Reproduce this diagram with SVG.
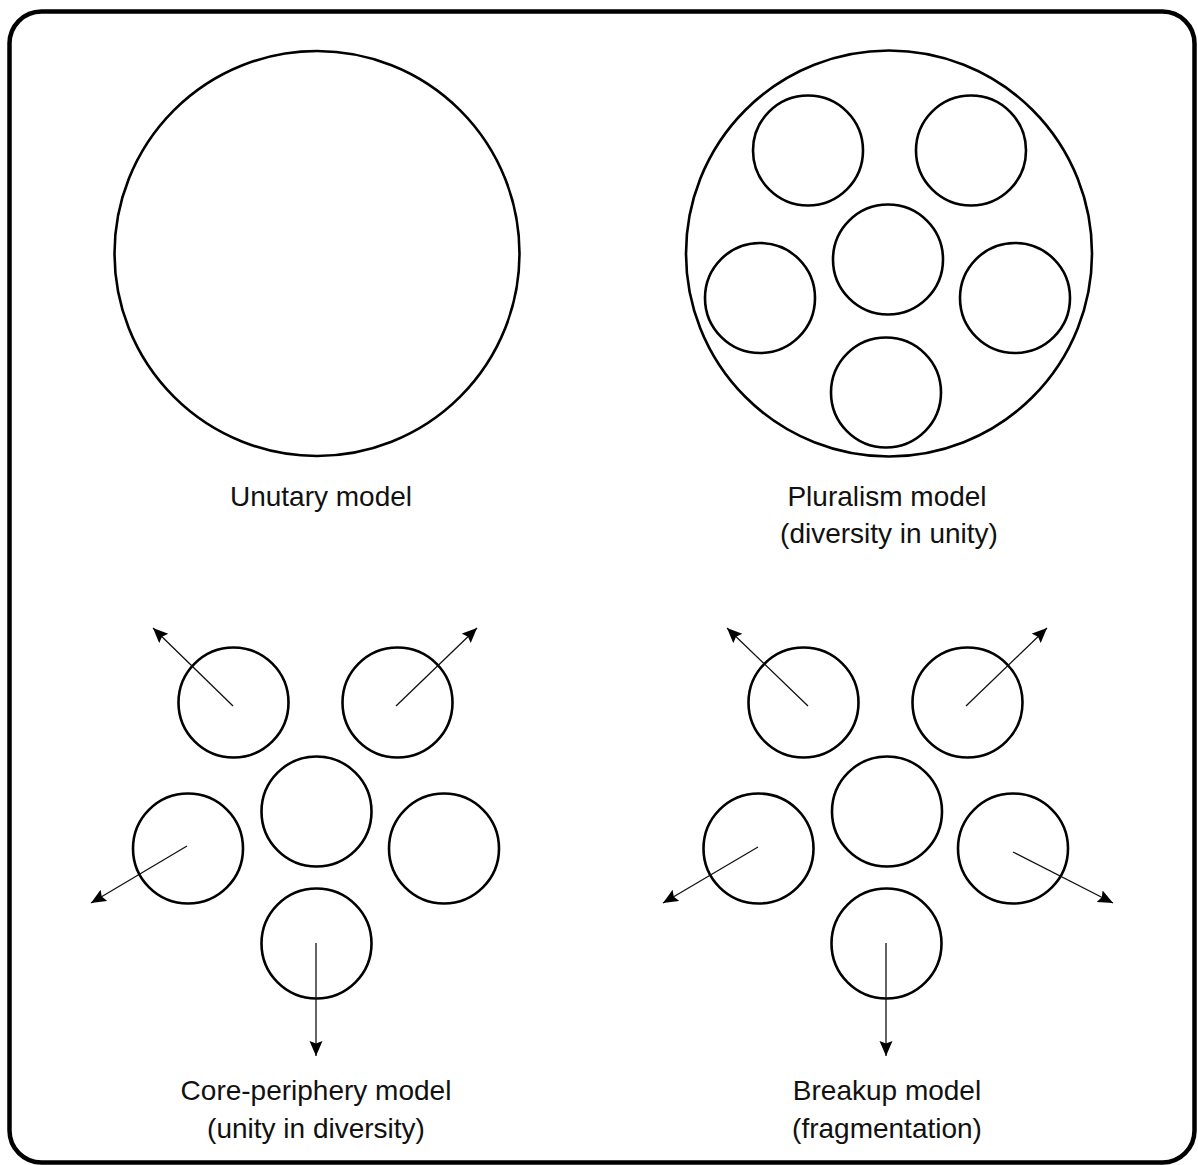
<svg xmlns="http://www.w3.org/2000/svg" width="1198" height="1165" viewBox="0 0 1198 1165">
  <style>
    .frame { fill: #ffffff; stroke: #000; stroke-width: 4.5; }
    .big { fill: none; stroke: #000; stroke-width: 2.6; }
    .small { fill: none; stroke: #000; stroke-width: 2.6; }
    .arrow { fill: none; stroke: #111; stroke-width: 1.3; marker-end: url(#head); }
    .label { font-family: "Liberation Sans", Arial, Helvetica, sans-serif; font-size: 28px; fill: #111; text-anchor: middle; }
  </style>
  <defs>
    <marker id="head" markerUnits="userSpaceOnUse" markerWidth="16" markerHeight="14" refX="15" refY="6.5" orient="auto">
      <path d="M0,0 L15,6.5 L0,13 L2.5,6.5 z" fill="#000"/>
    </marker>
  </defs>

  <rect id="frame" class="frame" x="9.5" y="11.5" width="1185" height="1151" rx="32" ry="32"/>

  <!-- Unitary model -->
  <g id="unitary">
    <circle class="big" cx="317" cy="253.5" r="202.5"/>
    <text class="label" x="321" y="506">Unutary model</text>
  </g>

  <!-- Pluralism model -->
  <g id="pluralism">
    <circle class="big" cx="889" cy="253.5" r="203"/>
    <circle class="small" cx="808" cy="150.5" r="55"/>
    <circle class="small" cx="971" cy="150.5" r="55"/>
    <circle class="small" cx="888" cy="259.5" r="55"/>
    <circle class="small" cx="760" cy="298" r="55"/>
    <circle class="small" cx="1015" cy="298" r="55"/>
    <circle class="small" cx="886" cy="392.5" r="55"/>
    <text class="label" x="887" y="506">Pluralism model</text>
    <text class="label" x="889" y="543">(diversity in unity)</text>
  </g>

  <!-- Core-periphery model -->
  <g id="core-periphery">
    <circle class="small" cx="233.5" cy="702.5" r="55"/>
    <circle class="small" cx="397.5" cy="702.5" r="55"/>
    <circle class="small" cx="316.5" cy="811.5" r="55"/>
    <circle class="small" cx="188" cy="848.5" r="55"/>
    <circle class="small" cx="444" cy="848.5" r="55"/>
    <circle class="small" cx="316.5" cy="943.5" r="55"/>
    <text class="label" x="316" y="1100">Core-periphery model</text>
    <text class="label" x="316" y="1138">(unity in diversity)</text>
  </g>

  <!-- Breakup model -->
  <g id="breakup">
    <circle class="small" cx="803.5" cy="702.5" r="55"/>
    <circle class="small" cx="967.5" cy="702.5" r="55"/>
    <circle class="small" cx="887" cy="811.5" r="55"/>
    <circle class="small" cx="758.5" cy="848.5" r="55"/>
    <circle class="small" cx="1013" cy="848.5" r="55"/>
    <circle class="small" cx="886.5" cy="943.5" r="55"/>
    <text class="label" x="887" y="1100">Breakup model</text>
    <text class="label" x="887" y="1138">(fragmentation)</text>
  </g>

  <g id="connectors">
    <line class="arrow" x1="233" y1="706" x2="153" y2="628"/>
    <line class="arrow" x1="396" y1="706" x2="477" y2="628"/>
    <line class="arrow" x1="187" y1="846" x2="91" y2="903"/>
    <line class="arrow" x1="316" y1="943" x2="316" y2="1056"/>

    <line class="arrow" x1="808" y1="706" x2="727" y2="628"/>
    <line class="arrow" x1="966" y1="706" x2="1047" y2="628"/>
    <line class="arrow" x1="758" y1="847" x2="663" y2="903"/>
    <line class="arrow" x1="1013" y1="852" x2="1113" y2="903"/>
    <line class="arrow" x1="886" y1="943" x2="886" y2="1056"/>
  </g>
</svg>
